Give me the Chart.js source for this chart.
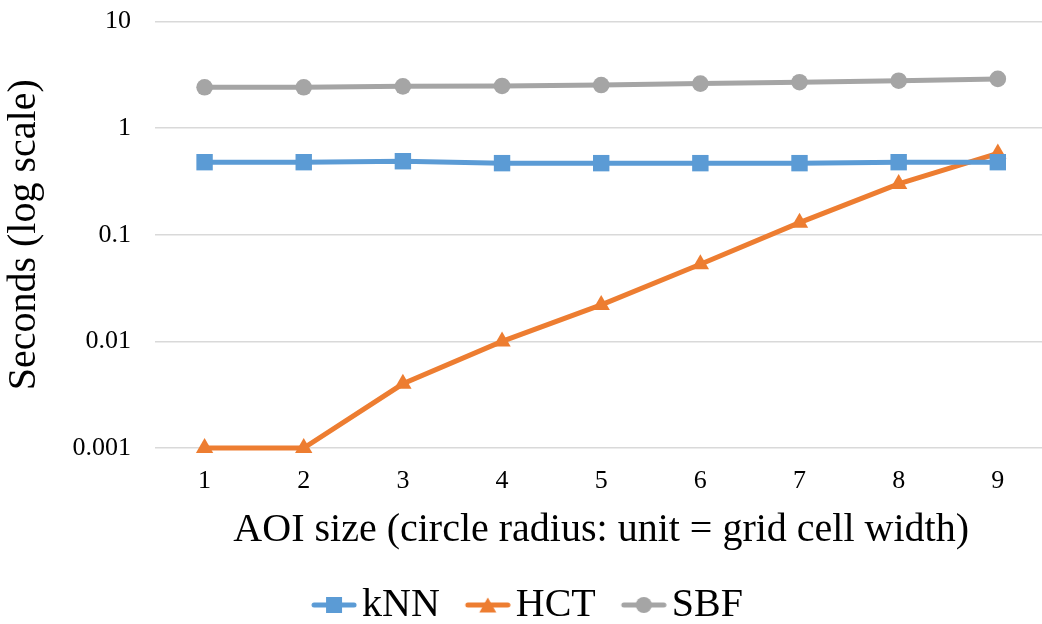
<!DOCTYPE html>
<html>
<head>
<meta charset="utf-8">
<script src="https://cdn.jsdelivr.net/npm/chart.js@4"></script>
<style>
  html, body { margin: 0; padding: 0; background: #fff; overflow: hidden; }
  #wrap { width: 1059px; height: 624px; }
</style>
</head>
<body>
<div id="wrap"><canvas id="myChart" width="1059" height="624"></canvas></div>
<script>
// AOI size categories
const categories = ['1', '2', '3', '4', '5', '6', '7', '8', '9'];
// seconds per series
const knnValues = [0.48, 0.48, 0.49, 0.47, 0.47, 0.47, 0.47, 0.48, 0.48];
const hctValues = [0.001, 0.001, 0.004, 0.01, 0.022, 0.053, 0.13, 0.30, 0.58];
const sbfValues = [2.42, 2.42, 2.47, 2.49, 2.54, 2.62, 2.70, 2.79, 2.90];
const yTicks = [0.001, 0.01, 0.1, 1, 10];

const blue = '#5B9BD5';
const orange = '#ED7D31';
const gray = '#A5A5A5';
const serif = "'Liberation Serif', 'Times New Roman', serif";

// line + marker picture for the legend (line sits in the right part of the image)
function legendIcon(color, style) {
  const c = document.createElement('canvas');
  c.width = 76; c.height = 20;
  const ctx = c.getContext('2d');
  ctx.strokeStyle = color;
  ctx.fillStyle = color;
  ctx.lineWidth = 5;
  ctx.lineCap = 'round';
  ctx.beginPath();
  ctx.moveTo(33, 10); ctx.lineTo(73, 10);
  ctx.stroke();
  ctx.beginPath();
  if (style === 'rect') {
    ctx.rect(45, 2, 16, 16);
  } else if (style === 'triangle') {
    ctx.moveTo(53, 2.5); ctx.lineTo(61.5, 17.5); ctx.lineTo(44.5, 17.5); ctx.closePath();
  } else {
    ctx.arc(53, 10, 8, 0, Math.PI * 2);
  }
  ctx.fill();
  return c;
}

const icons = [legendIcon(blue, 'rect'), legendIcon(orange, 'triangle'), legendIcon(gray, 'circle')];

// nudge the legend sideways
const legendShift = {
  id: 'legendShift',
  afterLayout: function (chart) {
    const dx = -10;
    chart.legend.left += dx;
    chart.legend.right += dx;
  }
};

const chartData = {
  labels: categories,
  datasets: [{
    label: 'kNN',
    data: knnValues,
    borderColor: blue,
    backgroundColor: blue,
    borderWidth: 5,
    pointStyle: 'rect',
    pointRadius: 11.6,
    pointBorderWidth: 0,
    clip: false
  },
  {
    label: 'HCT',
    data: hctValues,
    borderColor: orange,
    backgroundColor: orange,
    borderWidth: 5,
    pointStyle: 'triangle',
    pointRadius: 10,
    pointBorderWidth: 0,
    clip: false
  },
  {
    label: 'SBF',
    data: sbfValues,
    borderColor: gray,
    backgroundColor: gray,
    borderWidth: 5,
    pointStyle: 'circle',
    pointRadius: 8.3,
    pointBorderWidth: 0,
    clip: false
  }]
};

const config = {
  type: 'line',
  data: chartData,
  plugins: [legendShift],
  options: {
    responsive: false,
    animation: false,
    layout: { padding: { top: 0, left: 0, right: 0, bottom: -11 } },
    plugins: {
      tooltip: { enabled: false },
      legend: {
        position: 'bottom',
        labels: {
          usePointStyle: true,
          pointStyleWidth: 46,
          boxHeight: 20,
          padding: 10,
          color: '#000',
          font: { family: serif, size: 40 },
          generateLabels: function (chart) {
            return chart.data.datasets.map(function (ds, i) {
              return {
                text: ds.label,
                pointStyle: icons[i],
                fillStyle: ds.borderColor,
                strokeStyle: ds.borderColor,
                lineWidth: 0,
                hidden: false,
                datasetIndex: i,
                fontColor: '#000'
              };
            });
          }
        }
      }
    },
    scales: {
      x: {
        offset: true,
        grid: { display: false },
        border: { display: false },
        ticks: { color: '#000', font: { family: serif, size: 26, lineHeight: 1 }, padding: 12 },
        title: {
          display: true,
          text: 'AOI size (circle radius: unit = grid cell width)',
          color: '#000',
          font: { family: serif, size: 40 },
          padding: { top: 0, bottom: 21 }
        }
      },
      y: {
        type: 'logarithmic',
        min: 0.001,
        max: 10,
        afterBuildTicks: function (scale) {
          scale.ticks = yTicks.map(function (v) { return { value: v, major: true }; });
        },
        afterFit: function (scale) { scale.width = 155; },
        grid: { color: '#D9D9D9', lineWidth: 1.5, drawTicks: true, tickLength: 18, tickColor: 'rgba(0,0,0,0)' },
        border: { display: false },
        ticks: {
          color: '#000',
          font: { family: serif, size: 26 },
          padding: 6,
          callback: function (value) { return String(value); }
        },
        title: {
          display: true,
          text: 'Seconds (log scale)',
          color: '#000',
          font: { family: serif, size: 40 },
          padding: { top: 0, bottom: 0 }
        }
      }
    }
  }
};

var ctx = document.getElementById('myChart').getContext('2d');
var myChart = new Chart(ctx, config);
</script>
</body>
</html>
